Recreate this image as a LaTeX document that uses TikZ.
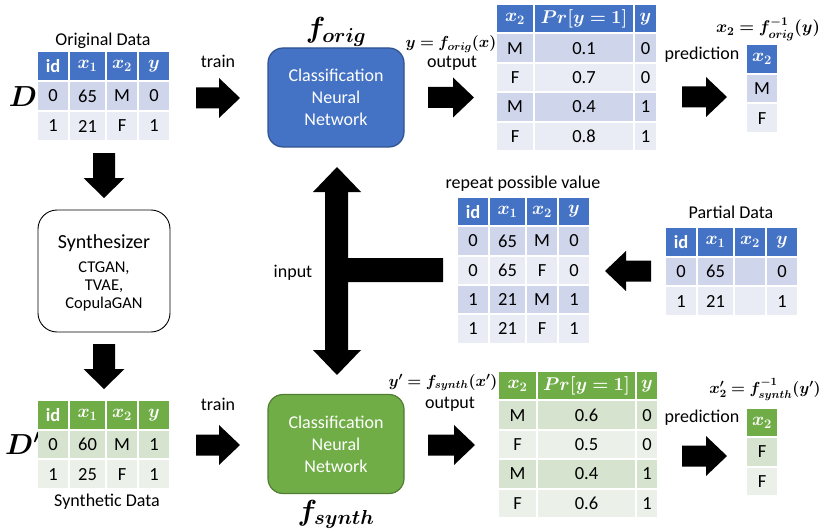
\RequirePackage{fix-cm}
\documentclass[tikz,border=0pt]{standalone}
\usepackage{fontspec}
\setmainfont{Carlito}
\usepackage{amsmath}
\usepackage{bm}
\usetikzlibrary{matrix}

\definecolor{hdrB}{HTML}{4472C4}
\definecolor{bandBa}{HTML}{CFD5EA}
\definecolor{bandBb}{HTML}{E9EBF5}
\definecolor{edgeB}{HTML}{2F528F}
\definecolor{hdrG}{HTML}{70AD47}
\definecolor{bandGa}{HTML}{D5E3CF}
\definecolor{bandGb}{HTML}{EBF1E9}
\definecolor{edgeG}{HTML}{507E32}

\newcommand\fs[2]{\fontsize{#1}{#2}\selectfont}

% block arrows: tail x, centre y, tip x  /  centre x, tail y, tip y
\newcommand\blockright[3]{\fill (#1,#2-10.5) -- (#3-21,#2-10.5) -- (#3-21,#2-20) -- (#3,#2)
  -- (#3-21,#2+20) -- (#3-21,#2+10.5) -- (#1,#2+10.5) -- cycle;}
\newcommand\blockleft[3]{\fill (#1,#2-10.5) -- (#3+21,#2-10.5) -- (#3+21,#2-20) -- (#3,#2)
  -- (#3+21,#2+20) -- (#3+21,#2+10.5) -- (#1,#2+10.5) -- cycle;}
\newcommand\blockdown[3]{\fill (#1-11,#2) -- (#1-11,#3-20) -- (#1-20.5,#3-20) -- (#1,#3)
  -- (#1+20.5,#3-20) -- (#1+11,#3-20) -- (#1+11,#2) -- cycle;}

\tikzset{
  lbl/.style={font=\fs{18}{22}, inner sep=0, anchor=base},
  eqn/.style={font=\fs{16}{20}, inner sep=0, anchor=base},
  bigm/.style={font=\fs{29}{34}, inner sep=0, anchor=base},
  datatbl/.style={matrix of nodes, nodes in empty cells, row sep=2pt, column sep=2pt,
    inner sep=0, outer sep=0, anchor=north west,
    nodes={inner sep=0, outer sep=0, minimum height=#1, font=\fs{18.5}{22}, anchor=center}},
  bluetbl/.style={row 1/.style={nodes={fill=hdrB, text=white}},
    row 2/.style={nodes={fill=bandBa}}, row 3/.style={nodes={fill=bandBb}},
    row 4/.style={nodes={fill=bandBa}}, row 5/.style={nodes={fill=bandBb}}},
  greentbl/.style={row 1/.style={nodes={fill=hdrG, text=white}},
    row 2/.style={nodes={fill=bandGa}}, row 3/.style={nodes={fill=bandGb}},
    row 4/.style={nodes={fill=bandGa}}, row 5/.style={nodes={fill=bandGb}}},
  fourcols/.style={column 1/.style={nodes={minimum width=30}},
    column 2/.style={nodes={minimum width=35}},
    column 3/.style={nodes={minimum width=30}},
    column 4/.style={nodes={minimum width=30}}},
  onecol/.style={column 1/.style={nodes={minimum width=30}}},
  nnbox/.style={rounded corners=15, minimum width=136, minimum height=99, line width=1.2,
    text=white, align=center, font=\fs{18}{22}, inner sep=0},
}

\begin{document}
\begin{tikzpicture}[x=1pt, y=-1pt]
\useasboundingbox (0,0) rectangle (835,532);

% ---------- original data ----------
\node[lbl] (origcap) at (103,46) {Original Data};
\node[bigm] (Dlab) at (23,107) {$\bm{D}$};
\matrix (orig) [datatbl=28, bluetbl, fourcols] at (38,52) {
  \textbf{id} & $\bm{x_1}$ & $\bm{x_2}$ & $\bm{y}$ \\
  0 & 65 & M & 0 \\
  1 & 21 & F & 1 \\
};

% ---------- synthesizer ----------
\blockdown{104}{153}{198}
\node[draw=black, line width=0.9, rounded corners=19, minimum width=132, minimum height=122] (syn) at (104,271) {};
\node[font=\fs{20}{24}, inner sep=0, anchor=base] (synA) at (104,248) {Synthesizer};
\node[font=\fs{16.5}{18}, inner sep=0, anchor=base] (synB) at (104,272) {CTGAN,};
\node[font=\fs{16.5}{18}, inner sep=0, anchor=base] (synC) at (104,290) {TVAE,};
\node[font=\fs{16.5}{18}, inner sep=0, anchor=base] (synD) at (104,308) {CopulaGAN};
\blockdown{104}{344}{389}

% ---------- synthetic data ----------
\node[bigm] (Dplab) at (23,454) {$\bm{D'}$};
\matrix (synt) [datatbl=27.7, greentbl, fourcols] at (38,401) {
  \textbf{id} & $\bm{x_1}$ & $\bm{x_2}$ & $\bm{y}$ \\
  0 & 60 & M & 1 \\
  1 & 25 & F & 1 \\
};
\node[lbl] (syncap) at (107,506) {Synthetic Data};

% ---------- training ----------
\node[lbl] (trainA) at (218,68) {train};
\blockright{196}{98}{240}
\node[lbl] (trainB) at (218,410) {train};
\blockright{196}{445}{240}

% ---------- classifiers ----------
\node[bigm] (forig) at (336,38) {$\bm{f_{orig}}$};
\node[nnbox, fill=hdrB, draw=edgeB] (nnO) at (336,97.5) {Classification\\Neural\\Network};
\node[nnbox, fill=hdrG, draw=edgeG] (nnS) at (336,444) {Classification\\Neural\\Network};
\node[bigm] (fsynth) at (336,520) {$\bm{f_{synth}}$};

% ---------- input arrow ----------
\fill (337,167) -- (361,192) -- (348,192) -- (348,258) -- (443,258) -- (443,282)
  -- (348,282) -- (348,350) -- (361,350) -- (337,375) -- (313,350) -- (325,350)
  -- (325,192) -- (313,192) -- cycle;
\node[lbl] (inlab) at (293,277) {input};

% ---------- candidate rows ----------
\node[lbl] (repcap) at (523,188) {repeat possible value};
\matrix (rep) [datatbl=27.3, bluetbl, fourcols] at (458,198) {
  \textbf{id} & $\bm{x_1}$ & $\bm{x_2}$ & $\bm{y}$ \\
  0 & 65 & M & 0 \\
  0 & 65 & F & 0 \\
  1 & 21 & M & 1 \\
  1 & 21 & F & 1 \\
};
\blockleft{651}{271}{605}
\node[lbl] (partcap) at (731,218) {Partial Data};
\matrix (part) [datatbl=27.7, bluetbl, fourcols] at (666,228) {
  \textbf{id} & $\bm{x_1}$ & $\bm{x_2}$ & $\bm{y}$ \\
  0 & 65 & & 0 \\
  1 & 21 & & 1 \\
};

% ---------- original model outputs ----------
\node[eqn] (eqO) at (451,48) {$\bm{y=f_{orig}(x)}$};
\node[lbl] (outA) at (452,68) {output};
\blockright{428}{97.5}{474}
\matrix (outO) [datatbl=27.4, bluetbl,
  column 1/.style={nodes={minimum width=36}},
  column 2/.style={nodes={minimum width=98}},
  column 3/.style={nodes={minimum width=21}}] at (497,5) {
  $\bm{x_2}$ & $\bm{Pr[y=1]}$ & $\bm{y}$ \\
  M & 0.1 & 0 \\
  F & 0.7 & 0 \\
  M & 0.4 & 1 \\
  F & 0.8 & 1 \\
};
\node[eqn, font=\fs{17}{20}] (invO) at (768,33) {$\bm{x_2=f^{-1}_{orig}(y)}$};
\node[lbl] (predA) at (702,60) {prediction};
\blockright{682}{97}{727}
\matrix (prO) [datatbl=27.7, bluetbl, onecol] at (747,45) {
  $\bm{x_2}$ \\
  M \\
  F \\
};

% ---------- synthetic model outputs ----------
\node[eqn] (eqS) at (443,386) {$\bm{y'=f_{synth}(x')}$};
\node[lbl] (outB) at (450,408) {output};
\blockright{428}{445}{475}
\matrix (outS) [datatbl=27.4, greentbl,
  column 1/.style={nodes={minimum width=37}},
  column 2/.style={nodes={minimum width=97}},
  column 3/.style={nodes={minimum width=20}}] at (499,372) {
  $\bm{x_2}$ & $\bm{Pr[y=1]}$ & $\bm{y}$ \\
  M & 0.6 & 0 \\
  F & 0.5 & 0 \\
  M & 0.4 & 1 \\
  F & 0.6 & 1 \\
};
\node[eqn] (invS) at (765,393) {$\bm{x'_2=f^{-1}_{synth}(y')}$};
\node[lbl] (predB) at (702,422) {prediction};
\blockright{682}{456}{727}
\matrix (prS) [datatbl=27.3, greentbl, onecol] at (747,409) {
  $\bm{x_2}$ \\
  F \\
  F \\
};
\end{tikzpicture}
\end{document}
